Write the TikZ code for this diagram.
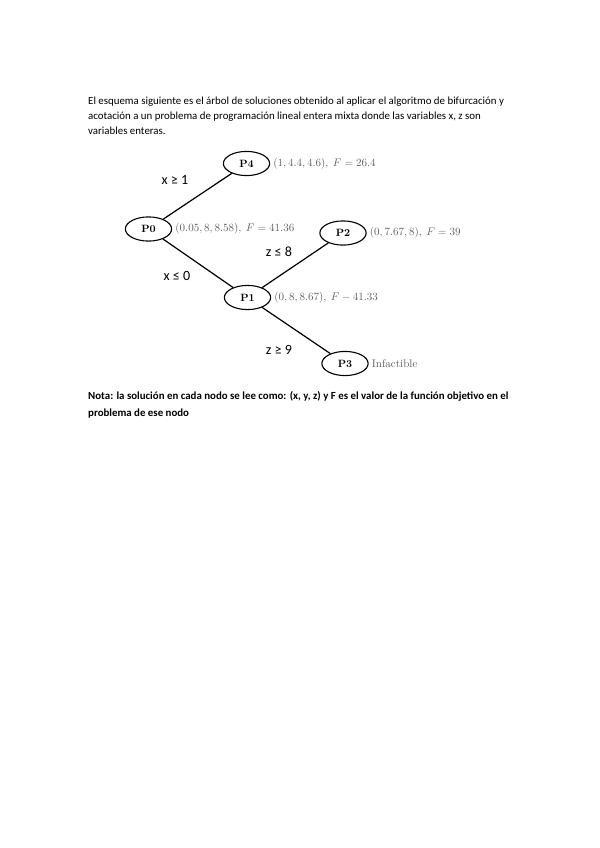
\documentclass[tikz,border=0pt]{standalone}
\usepackage{fontspec}
\setmainfont{Carlito}
\usetikzlibrary{positioning,shapes.geometric}
\definecolor{solgray}{HTML}{606060}

\tikzset{
  bodyline/.style={anchor=base west,inner sep=0pt,font=\fontsize{10.8}{12}\selectfont},
  notaline/.style={bodyline,font=\fontsize{10.8}{12}\selectfont\bfseries},
  subprob/.style={draw,ellipse,line width=1.1pt,minimum width=46pt,minimum height=24pt,inner sep=0pt,
    font=\fontsize{10.5}{12}\selectfont\rmfamily\bfseries},
  solinfo/.style={right=3pt of #1,inner sep=0pt,text=solgray,font=\fontsize{11}{12}\selectfont},
  cond/.style={inner sep=0pt,font=\fontsize{14}{16}\selectfont},
  branch/.style={line width=1.2pt}
}

\begin{document}
\begin{tikzpicture}[x=0.9938pt,y=-0.9938pt]
  \useasboundingbox[fill=white] (0,0) rectangle (599,848);

  % ---- enunciado ----------------------------------------------
  \node[bodyline] (intro1) at (88,104) {El esquema siguiente es el árbol de soluciones obtenido al aplicar el algoritmo de bifurcación y};
  \node[bodyline] (intro2) at (88,119) {acotación a un problema de programación lineal entera mixta donde las variables x, z son};
  \node[bodyline] (intro3) at (88,134) {variables enteras.};

  % ---- arbol de subproblemas ----------------------------------
  \node[subprob] (P0) at (148.5,229) {\fontspec{Latin Modern Roman}P0};
  \node[subprob] (P4) at (246.5,163.5) {\fontspec{Latin Modern Roman}P4};
  \node[subprob] (P1) at (247.5,297.5) {\fontspec{Latin Modern Roman}P1};
  \node[subprob] (P2) at (343,233) {\fontspec{Latin Modern Roman}P2};
  \node[subprob] (P3) at (345,363.5) {\fontspec{Latin Modern Roman}P3};

  % ramas
  \draw[branch] (P0) -- (P4);
  \draw[branch] (P0) -- (P1);
  \draw[branch] (P1) -- (P2);
  \draw[branch] (P1) -- (P3);

  % restricciones de cada rama
  \node[cond] (c04) at (175,180) {x ≥ 1};
  \node[cond] (c01) at (177,276) {x ≤ 0};
  \node[cond] (c12) at (279,252) {z ≤ 8};
  \node[cond] (c13) at (279,350) {z ≥ 9};

  % soluciones
  \node[solinfo=P0] (s0) {$(0.05, 8, 8.58),\ F = 41.36$};
  \node[solinfo=P4] (s4) {$(1, 4.4, 4.6),\ F = 26.4$};
  \node[solinfo=P2] (s2) {$(0, 7.67, 8),\ F = 39$};
  \node[solinfo=P1] (s1) {$(0, 8, 8.67),\ F - 41.33$};
  \node[solinfo=P3] (s3) {\fontspec{Latin Modern Roman}Infactible};

  % ---- nota ---------------------------------------------------
  \node[notaline] (nota1) at (88,399) {Nota: la solución en cada nodo se lee como: (x, y, z) y F es el valor de la función objetivo en el};
  \node[notaline] (nota2) at (88,416) {problema de ese nodo};
\end{tikzpicture}
\end{document}
